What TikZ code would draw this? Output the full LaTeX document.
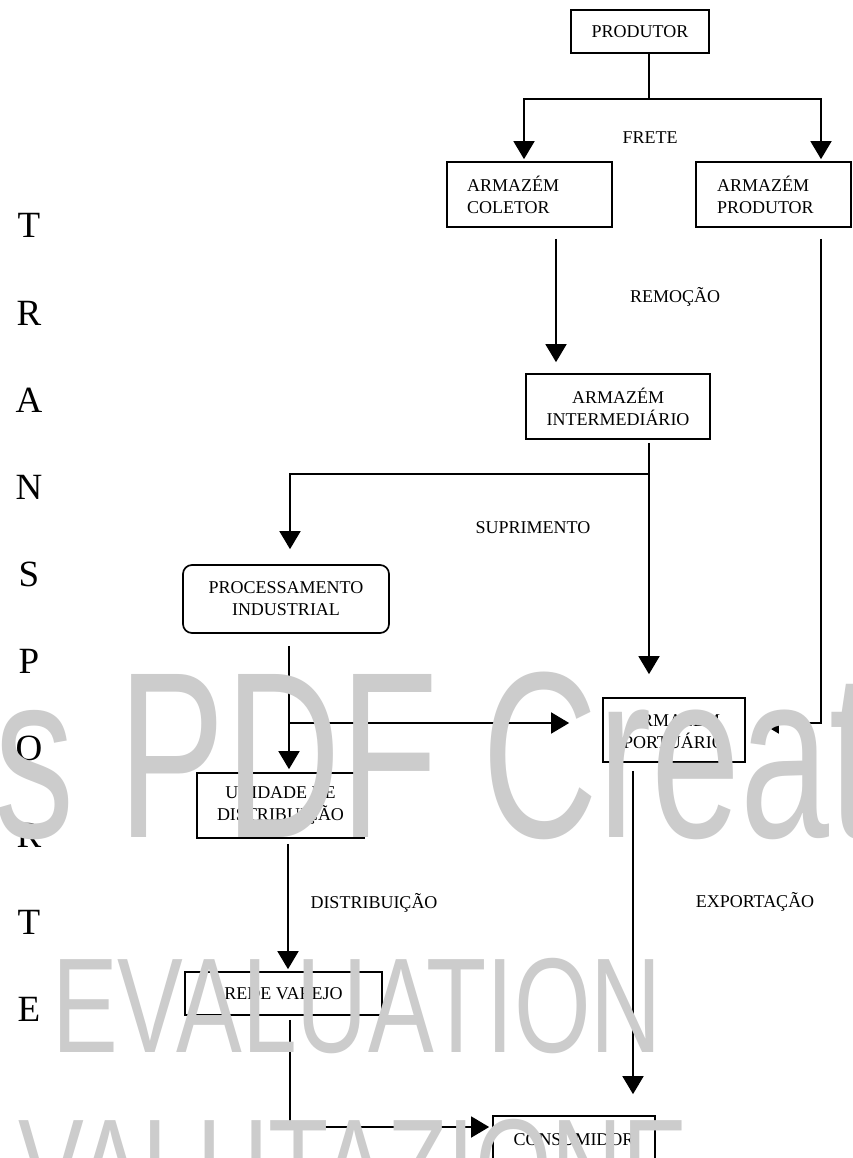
\documentclass[tikz,border=0pt]{standalone}
\usepackage{fontspec}
\setmainfont{Liberation Serif}
\newfontfamily\wmfont{Liberation Sans}
\usetikzlibrary{arrows.meta,calc}
\definecolor{wm}{HTML}{CCCCCC}
\begin{document}
\begin{tikzpicture}[x=1pt,y=-1pt,
  box/.style={draw, line width=1.7pt, inner sep=0pt, font=\fontsize{18}{22}\selectfont, align=center},
  lbl/.style={font=\fontsize{18}{22}\selectfont, inner sep=0pt, anchor=base},
  big/.style={font=\fontsize{37}{37}\selectfont, inner sep=0pt, anchor=base},
  conn/.style={line width=1.7pt},
  arr/.style={conn, -{Triangle[length=18pt,width=21pt]}},
  wmtext/.style={text=wm, inner sep=0pt, anchor=base west}]
\useasboundingbox (0,0) rectangle (853,1158);
\clip (0,0) rectangle (853,1158);
\fill[white] (0,0) rectangle (853,1158);

% boxes
\node[box, minimum width=138pt, minimum height=43pt] (prod) at (640,31.5) {PRODUTOR};
\node[box, text width=125pt, inner xsep=20pt, align=left, minimum height=65pt] (col) at (529.5,194.5) {ARMAZÉM\\COLETOR};
\node[box, text width=113pt, inner xsep=21pt, align=left, minimum height=65pt] (aprod) at (773.5,194.5) {ARMAZÉM\\PRODUTOR};
\node[box, minimum width=184pt, minimum height=65pt] (inter) at (618,406.5) {ARMAZÉM\\INTERMEDIÁRIO};
\node[box, rounded corners=9pt, minimum width=206pt, minimum height=68pt] (proc) at (286,599) {PROCESSAMENTO\\INDUSTRIAL};
\node[box, minimum width=167pt, minimum height=65pt] (unid) at (280.5,805.5) {UNIDADE DE\\DISTRIBUIÇÃO};
\node[box, minimum width=142pt, minimum height=64pt] (port) at (674,730) {ARMAZÉM\\PORTUÁRIO};
\node[box, minimum width=197pt, minimum height=43pt] (rede) at (283.5,993.5) {REDE VAREJO};
\node[box, minimum width=162pt, minimum height=48pt] (cons) at (574,1140) {CONSUMIDOR};

% labels
\node[lbl] (frete) at (650,144) {FRETE};
\node[lbl] (remo) at (675,302) {REMOÇÃO};
\node[lbl] (supr) at (533,533) {SUPRIMENTO};
\node[lbl] (dist) at (374,908) {DISTRIBUIÇÃO};
\node[lbl] (expo) at (755,907) {EXPORTAÇÃO};

\foreach \l [count=\i from 0] in {T,R,A,N,S,P,O,R,T,E}
  \node[big] (t\i) at (29,238+87.1*\i) {\l};

% connectors
\coordinate (j1) at (649,99);
\draw[conn] (prod.south -| j1) -- (j1);
\draw[arr] (j1) -| ([xshift=-5.5pt,yshift=2pt]col.north);
\draw[arr] (j1) -| ([xshift=47.5pt,yshift=2pt]aprod.north);

\coordinate (xa) at (556,0);
\draw[arr, shorten <=11pt, shorten >=11pt] (col.south -| xa) -- (inter.north -| xa);

\coordinate (xb) at (649,0);
\draw[arr, shorten <=3pt, shorten >=23pt] (inter.south -| xb) -- (port.north -| xb);
\coordinate (j2) at (649,474);
\draw[arr, shorten >=15pt] (j2) -| ([xshift=4pt]proc.north);

\coordinate (xc) at (289,0);
\draw[arr, shorten <=12pt, shorten >=3pt] (proc.south -| xc) -- (unid.north -| xc);
\coordinate (j3) at (289,723);
\draw[arr, shorten >=33pt] (j3) -- (port.west |- j3);

\coordinate (j4) at (821,723);
\draw[arr, shorten <=11pt, shorten >=15pt] (aprod.south -| j4) -- (j4) -- (port.east |- j4);

\coordinate (xd) at (288,0);
\draw[arr, shorten <=5pt, shorten >=2pt] (unid.south -| xd) -- (rede.north -| xd);

\coordinate (xe) at (633,0);
\draw[arr, shorten <=8pt, shorten >=21pt] (port.south -| xe) -- (cons.north -| xe);

\coordinate (j5) at (290,1127);
\draw[arr, shorten <=4pt, shorten >=3pt] (rede.south -| j5) -- (j5) -- (cons.west |- j5);

% watermark
\node[wmtext] (wm1) at (-6,837) {\scalebox{0.675}[1]{\wmfont\fontsize{237}{237}\selectfont s PDF Creat}};
\node[wmtext] (wm2) at (52,1052) {\scalebox{0.73}[1]{\wmfont\fontsize{135}{135}\selectfont EVALUATION}};
\node[wmtext] (wm3) at (18.5,1213) {\scalebox{0.73}[1]{\wmfont\fontsize{135}{135}\selectfont VALUTAZIONE}};
\end{tikzpicture}
\end{document}
